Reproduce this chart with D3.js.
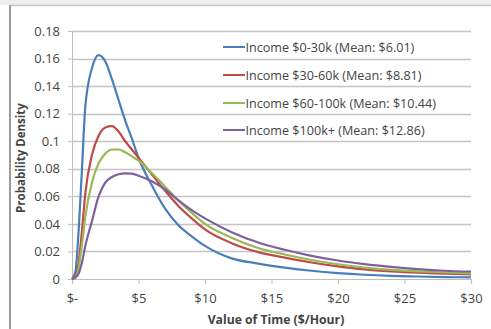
<!DOCTYPE html>
<html>
<head>
<meta charset="utf-8">
<script src="https://cdn.jsdelivr.net/npm/d3@7/dist/d3.min.js"></script>
<style>
html,body{margin:0;padding:0;background:#fff;}
svg{display:block;}
text{font-family:"Open Sans","Liberation Sans",sans-serif;fill:#444;}
</style>
</head>
<body>
<svg id="chart" width="491" height="329"></svg>
<script>
// ---- data ----
const xValues = [0,0.25,0.5,0.75,1,1.5,2,2.5,3,3.5,4,4.5,5,6,7,8,9,10,12,14,16,18,20,22,24,26,28,30];
const seriesNames = [
  "Income $0-30k (Mean: $6.01)",
  "Income $30-60k (Mean: $8.81)",
  "Income $60-100k (Mean: $10.44)",
  "Income $100k+ (Mean: $12.86)"
];
const income0to30 = [0,0.005,0.035,0.08,0.125,0.153,0.1625,0.158,0.145,0.13,0.115,0.102,0.088,0.068,0.051,0.039,0.031,0.024,0.015,0.0112,0.0083,0.006,0.0043,0.0031,0.0023,0.0018,0.0014,0.0012];
const income30to60 = [0,0.002,0.012,0.035,0.062,0.09,0.104,0.110,0.111,0.107,0.1,0.094,0.088,0.076,0.064,0.053,0.044,0.036,0.026,0.0195,0.0155,0.012,0.0092,0.007,0.0056,0.0046,0.0039,0.0034];
const income60to100 = [0,0.001,0.008,0.025,0.045,0.07,0.084,0.091,0.094,0.094,0.092,0.089,0.086,0.077,0.067,0.057,0.048,0.04,0.03,0.0225,0.0178,0.0138,0.0107,0.0083,0.0066,0.0055,0.0047,0.004];
const income100plus = [0,0.001,0.004,0.012,0.024,0.042,0.06,0.07,0.074,0.076,0.0767,0.0765,0.075,0.071,0.065,0.057,0.05,0.044,0.034,0.0265,0.0212,0.0168,0.0134,0.0108,0.0088,0.0072,0.006,0.0053];
const seriesValues = [income0to30, income30to60, income60to100, income100plus];
const colors = ["#4a7ebb","#be4b48","#98b954","#7d60a0"];
const xTicks = [0,5,10,15,20,25,30];
const xTickLabels = ["$-","$5","$10","$15","$20","$25","$30"];
const yTicks = [0,0.02,0.04,0.06,0.08,0.1,0.12,0.14,0.16,0.18];
const yTickLabels = ["0","0.02","0.04","0.06","0.08","0.1","0.12","0.14","0.16","0.18"];

// ---- layout ----
const svg = d3.select("#chart");
const W = 491, H = 329;
const mLeft = 72, mRight = 471, mTop = 31, mBottom = 279;

// background frame
svg.append("rect").attr("x",0).attr("y",0).attr("width",W).attr("height",5).attr("fill","#eeeeee");
svg.append("line").attr("x1",10).attr("x2",W).attr("y1",5.5).attr("y2",5.5).attr("stroke","#c8c8c8").attr("stroke-width",1.5);
svg.append("line").attr("x1",10).attr("x2",10).attr("y1",5).attr("y2",H).attr("stroke","#9a9a9a").attr("stroke-width",2);

const x = d3.scaleLinear().domain([0,30]).range([mLeft,mRight]);
const y = d3.scaleLinear().domain([0,0.18]).range([mBottom,mTop]);

// gridlines
svg.append("g").selectAll("line").data(yTicks.filter(d=>d>0)).join("line")
  .attr("x1",mLeft).attr("x2",mRight)
  .attr("y1",d=>Math.round(y(d))+0.5).attr("y2",d=>Math.round(y(d))+0.5)
  .attr("stroke","#c4c4c4").attr("stroke-width",1.3);

// y axis
const yAxis = d3.axisLeft(y).tickValues(yTicks).tickSize(4).tickPadding(8)
  .tickFormat((d,i)=>yTickLabels[i]);
const gy = svg.append("g").attr("transform",`translate(${mLeft},0)`).call(yAxis);
gy.select(".domain").attr("stroke","#bdbdbd").attr("stroke-width",1);
gy.selectAll(".tick line").attr("stroke","#bdbdbd");
gy.selectAll(".tick text").attr("font-size",13).attr("fill","#555")
  .attr("font-family","'Open Sans','Liberation Sans',sans-serif");

// x axis
const xAxis = d3.axisBottom(x).tickValues(xTicks).tickSize(5).tickPadding(10)
  .tickFormat((d,i)=>xTickLabels[i]);
const gx = svg.append("g").attr("transform",`translate(0,${mBottom})`).call(xAxis);
gx.select(".domain").attr("stroke","#bdbdbd").attr("stroke-width",1.2);
gx.selectAll(".tick line").attr("stroke","#bdbdbd");
gx.selectAll(".tick text").attr("font-size",13).attr("fill","#555")
  .attr("font-family","'Open Sans','Liberation Sans',sans-serif");

// lines
const line = d3.line().x((d,i)=>x(xValues[i])).y(d=>y(d)).curve(d3.curveMonotoneX);
svg.append("g").selectAll("path").data(seriesValues).join("path")
  .attr("d",d=>line(d)).attr("fill","none")
  .attr("stroke",(d,i)=>colors[i]).attr("stroke-width",2.2)
  .attr("stroke-linejoin","round");

// legend
const legY = [47, 75, 103, 130];
const lg = svg.append("g");
seriesNames.forEach((name,i)=>{
  lg.append("line").attr("x1",223).attr("x2",245).attr("y1",legY[i]).attr("y2",legY[i])
    .attr("stroke",colors[i]).attr("stroke-width",2);
  lg.append("text").attr("x",245.5).attr("y",legY[i]+4.5).attr("font-size",12.6)
    .attr("fill","#444").text(name);
});

// axis titles
svg.append("text").attr("x",276).attr("y",324).attr("text-anchor","middle")
  .attr("font-size",12.2).attr("font-weight","bold").attr("fill","#333").text("Value of Time ($/Hour)");
svg.append("text").attr("transform","translate(25,158) rotate(-90)").attr("text-anchor","middle")
  .attr("font-size",11.5).attr("font-weight","bold").attr("fill","#333").text("Probability Density");
</script>
</body>
</html>
